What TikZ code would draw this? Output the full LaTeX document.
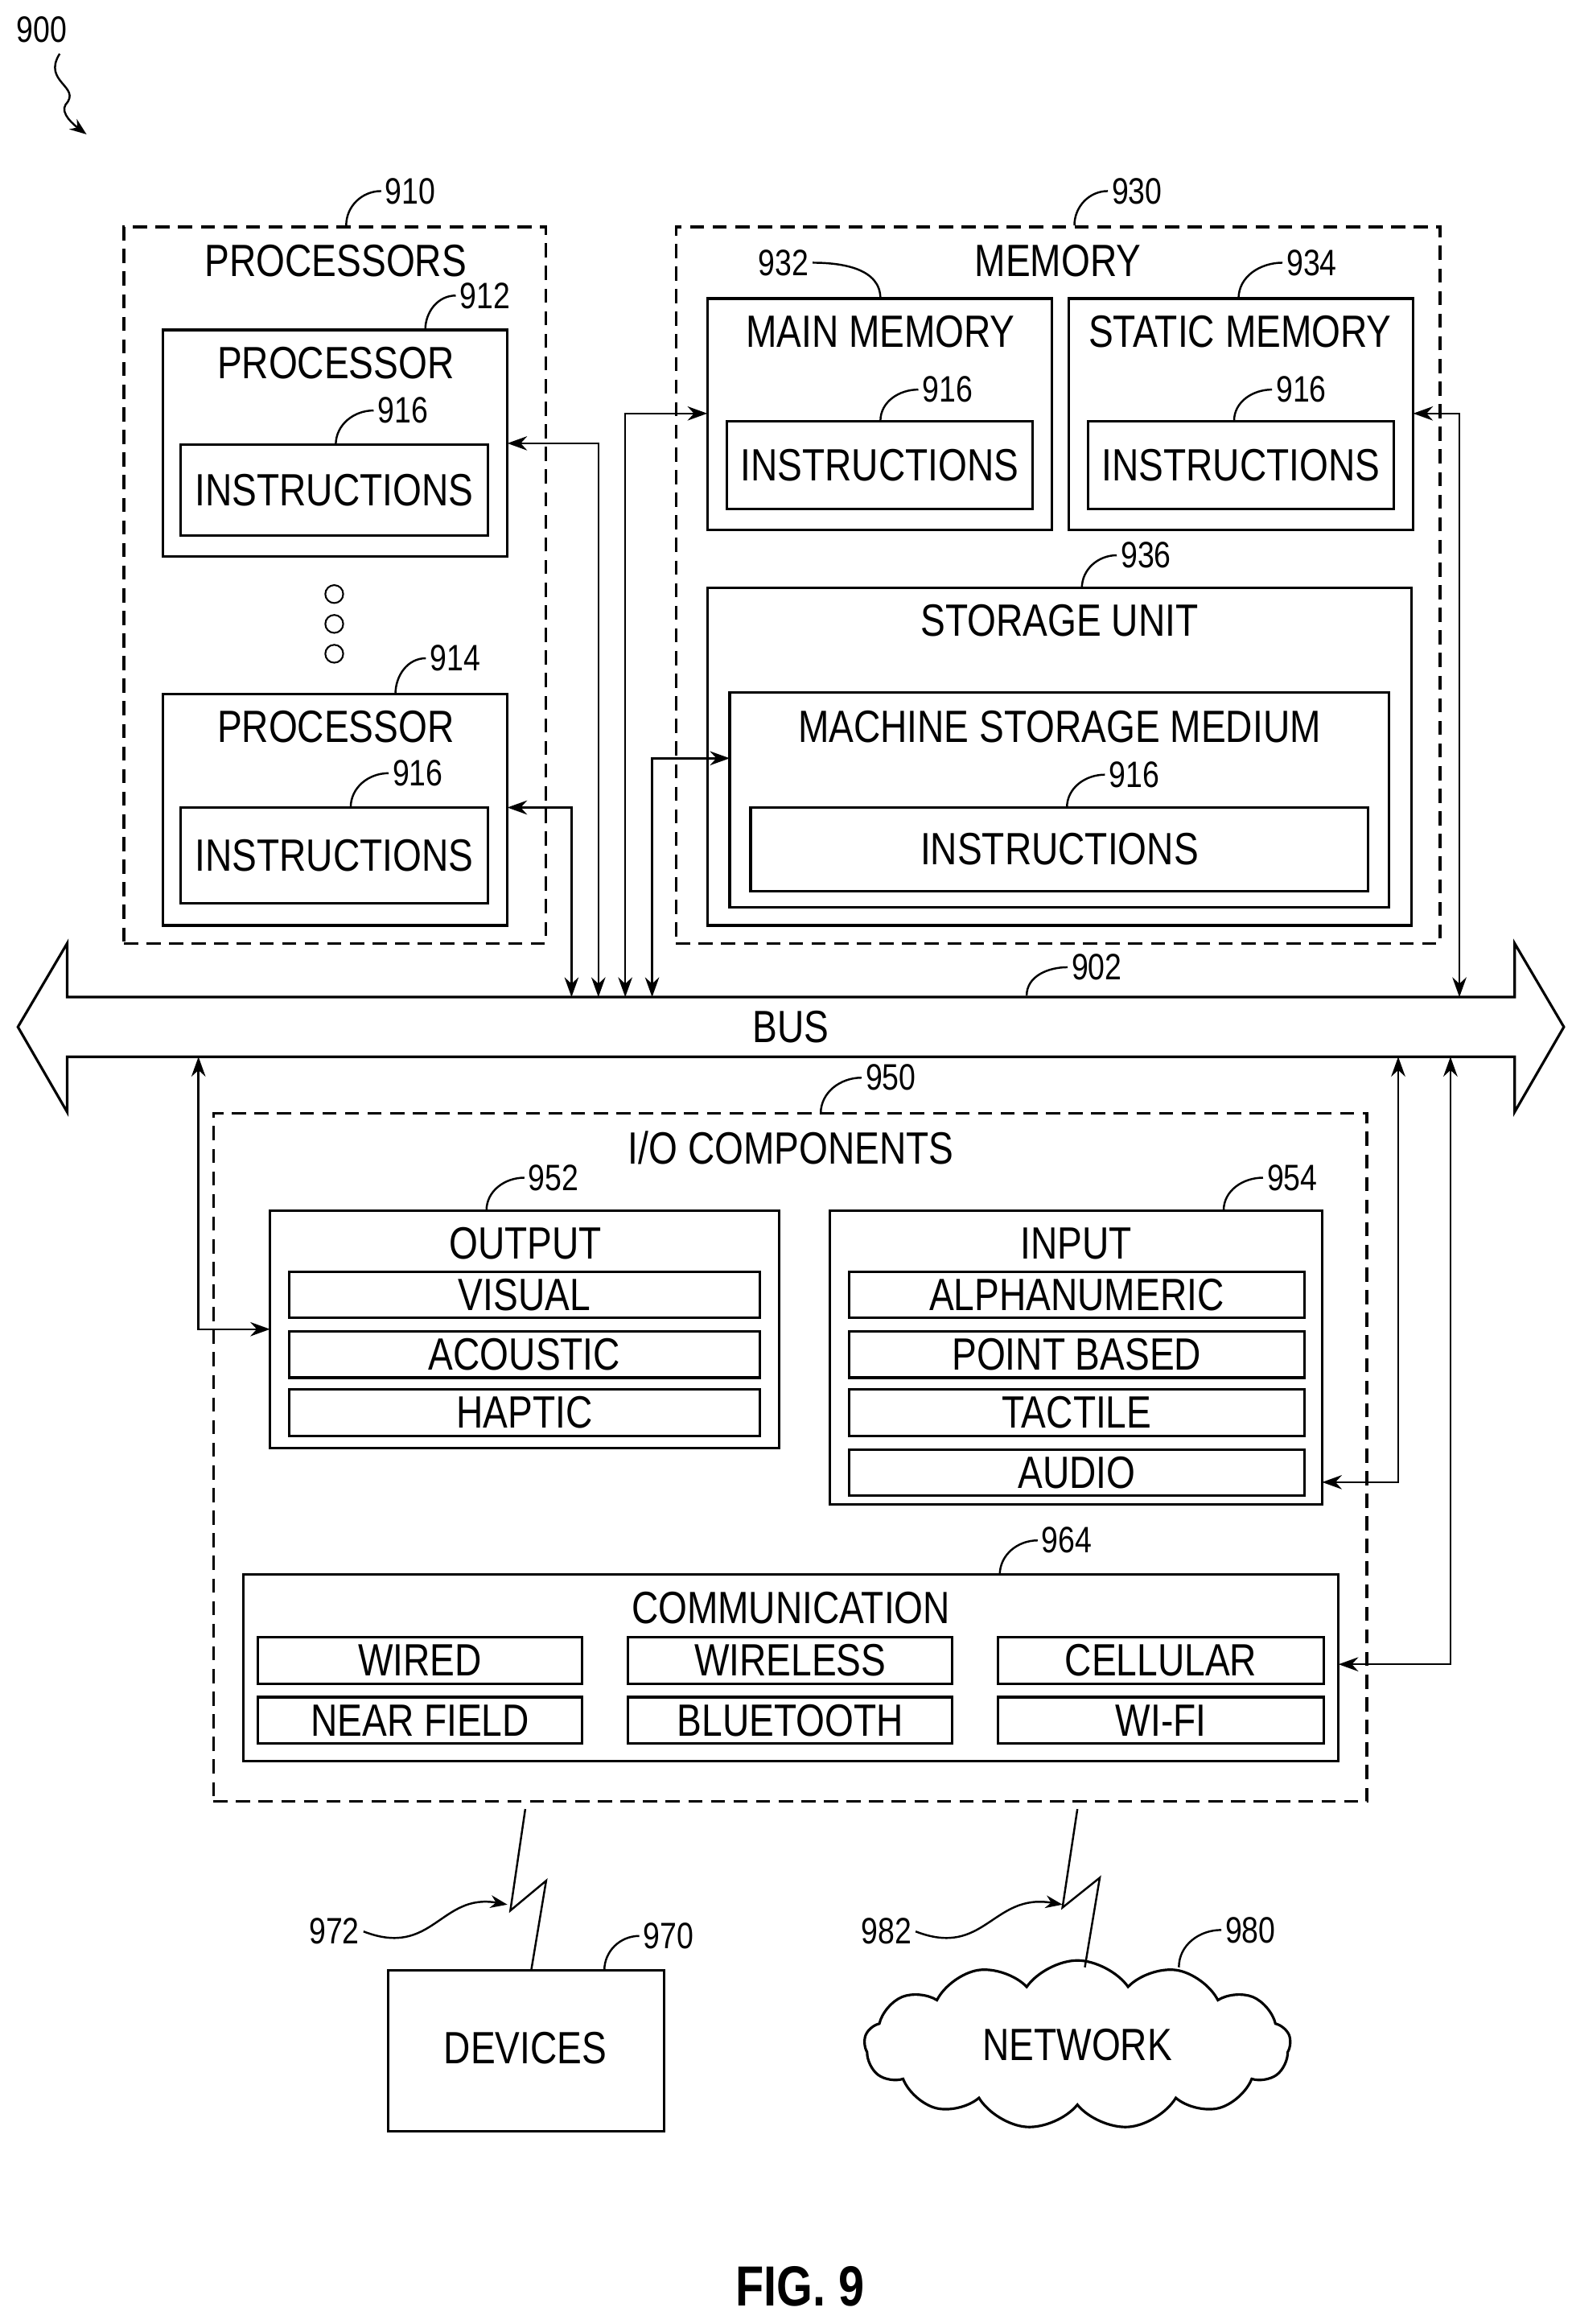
\documentclass[tikz,border=0pt]{standalone}
\usepackage{fontspec}
\setmainfont{Liberation Sans}[FakeStretch=0.82]
\usetikzlibrary{arrows.meta,shapes.symbols}
\newcommand\mybox[6]{\node[bx,#1,minimum width={(#4-#2)*0.01855cm},minimum height={(#5-#3)*0.01855cm}] (#6) at ({(#2+#4)/2},{(#3+#5)/2}) {};}
\newcommand\rowbox[6]{\node[bx,minimum width={(#4-#2)*0.01855cm},minimum height={(#5-#3)*0.01855cm}] (#1) at ({(#2+#4)/2},{(#3+#5)/2}) {#6};}
\begin{document}
\begin{tikzpicture}[x=0.01855cm,y=-0.01855cm,line width=0.9pt,
  bx/.style={draw,inner sep=0pt,outer sep=0pt,font=\fontsize{16}{18}\selectfont},
  dsh/.style={dashed,dash pattern=on 5pt off 3pt},
  ttl/.style={font=\fontsize{16}{18}\selectfont},
  num/.style={font=\fontsize{13}{15}\selectfont,inner sep=1pt},
  arr/.style={{Stealth[length=7pt,width=5pt]}-{Stealth[length=7pt,width=5pt]},line width=0.7pt},
  ld/.style={line width=0.7pt,out=180,in=90}]
\useasboundingbox (0,0) rectangle (1053,1557);
% top label
\node[num] (n900) at (28,20) {900};
\draw[-{Stealth[length=6pt]},line width=0.7pt] (40,36) .. controls (28,55) and (55,58) .. (44,70) .. controls (40,76) and (50,84) .. (58,90);
% processors
\mybox{dsh}{83}{152}{366}{632}{procs}
\node[ttl] (tprocs) at (225,175) {PROCESSORS};
\mybox{}{109}{221}{340}{373}{proca}
\node[ttl] (tproca) at (225,243) {PROCESSOR};
\rowbox{insa}{121}{298}{327}{359}{INSTRUCTIONS}
\foreach \y in {398,418,438} \draw[line width=0.6pt] (224,\y) circle (6);
\mybox{}{109}{465}{340}{620}{procb}
\node[ttl] (tprocb) at (225,487) {PROCESSOR};
\rowbox{insb}{121}{541}{327}{605}{INSTRUCTIONS}
% memory
\mybox{dsh}{453}{152}{965}{632}{mem}
\node[ttl] (tmem) at (709,175) {MEMORY};
\mybox{}{474}{200}{705}{355}{mainm}
\node[ttl] (tmainm) at (590,222) {MAIN MEMORY};
\rowbox{insc}{487}{282}{692}{341}{INSTRUCTIONS}
\mybox{}{716}{200}{947}{355}{statm}
\node[ttl] (tstatm) at (831,222) {STATIC MEMORY};
\rowbox{insd}{729}{282}{934}{341}{INSTRUCTIONS}
\mybox{}{474}{394}{946}{620}{stor}
\node[ttl] (tstor) at (710,416) {STORAGE UNIT};
\mybox{}{489}{464}{931}{608}{msm}
\node[ttl] (tmsm) at (710,487) {MACHINE STORAGE MEDIUM};
\rowbox{inse}{503}{541}{917}{597}{INSTRUCTIONS}
% bus
\draw (12,688) -- (45,632) -- (45,668) -- (1015,668) -- (1015,632) -- (1048,688)
  -- (1015,745) -- (1015,708) -- (45,708) -- (45,745) -- cycle;
\node[ttl] (tbus) at (530,688) {BUS};
% io components
\mybox{dsh}{143}{746}{916}{1207}{io}
\node[ttl] (tio) at (530,769) {I/O COMPONENTS};
\mybox{}{181}{811}{522}{970}{outp}
\node[ttl] (toutp) at (352,833) {OUTPUT};
\rowbox{vis}{194}{852}{509}{883}{VISUAL}
\rowbox{aco}{194}{892}{509}{923}{ACOUSTIC}
\rowbox{hap}{194}{931}{509}{962}{HAPTIC}
\mybox{}{556}{811}{886}{1008}{inp}
\node[ttl] (tinp) at (721,833) {INPUT};
\rowbox{alp}{569}{852}{874}{883}{ALPHANUMERIC}
\rowbox{pnt}{569}{892}{874}{923}{POINT BASED}
\rowbox{tac}{569}{931}{874}{962}{TACTILE}
\rowbox{aud}{569}{971}{874}{1002}{AUDIO}
\mybox{}{163}{1055}{897}{1180}{comm}
\node[ttl] (tcomm) at (530,1077) {COMMUNICATION};
\rowbox{wir}{173}{1097}{390}{1128}{WIRED}
\rowbox{wls}{421}{1097}{638}{1128}{WIRELESS}
\rowbox{cel}{669}{1097}{887}{1128}{CELLULAR}
\rowbox{nfc}{173}{1137}{390}{1168}{NEAR FIELD}
\rowbox{blu}{421}{1137}{638}{1168}{BLUETOOTH}
\rowbox{wifi}{669}{1137}{887}{1168}{WI-FI}
% devices and network
\mybox{}{260}{1320}{445}{1428}{dev}
\node[ttl] (tdev) at (352,1372) {DEVICES};
\node[draw,cloud,cloud puffs=13,cloud puff arc=110,aspect=2.6,minimum width=5.3cm,minimum height=2.1cm,ttl] (net) at (722,1370) {NETWORK};
\draw[line width=0.7pt] (352,1212) -- (342,1280) -- (366,1260) -- (356,1320);
\draw[line width=0.7pt] (722,1212) -- (712,1278) -- (737,1258) -- (727,1318);
% bus connectors
\draw[arr] (proca.east) -| (401,668);
\draw[arr] (procb.east |- 0,541) -| (383,668);
\draw[arr] (mainm.west |- 0,277) -| (419,668);
\draw[arr] (msm.west |- 0,508) -| (437,668);
\draw[arr] (statm.east |- 0,277) -| (978,668);
\draw[arr] (outp.west) -| (133,708);
\draw[arr] (inp.east |- 0,993) -| (937,708);
\draw[arr] (comm.east |- 0,1115) -| (972,708);
% reference numerals
\foreach \t/\x/\y/\tx/\ty in {910/275/128/232/151, 912/325/198/285/221, 916/270/275/225/298,
  914/305/441/265/465, 916/280/518/235/541, 930/762/128/720/151, 916/635/261/590/282,
  934/879/176/830/200, 916/872/261/827/282, 936/768/372/725/394, 916/760/519/715/541,
  902/735/648/688/667, 950/597/722/550/746, 952/371/789/326/811, 954/866/789/820/811,
  964/715/1032/670/1055, 970/448/1297/405/1320, 980/838/1293/790/1318}
  {\node[num] (l\t) at (\x,\y) {\t};
   \draw[ld] (l\t.west) to (\tx,\ty);}
\node[num] (l932) at (525,176) {932};
\draw[ld,out=0] (l932.east) to (590,200);
\node[num] (l972) at (224,1294) {972};
\draw[-{Stealth[length=6pt]},line width=0.7pt] (l972.east) .. controls (290,1312) and (295,1268) .. (340,1276);
\node[num] (l982) at (594,1294) {982};
\draw[-{Stealth[length=6pt]},line width=0.7pt] (l982.east) .. controls (660,1312) and (665,1268) .. (712,1276);
\node[font=\fontsize{20}{22}\selectfont\bfseries] (fig) at (536,1532) {FIG. 9};
\end{tikzpicture}
\end{document}
